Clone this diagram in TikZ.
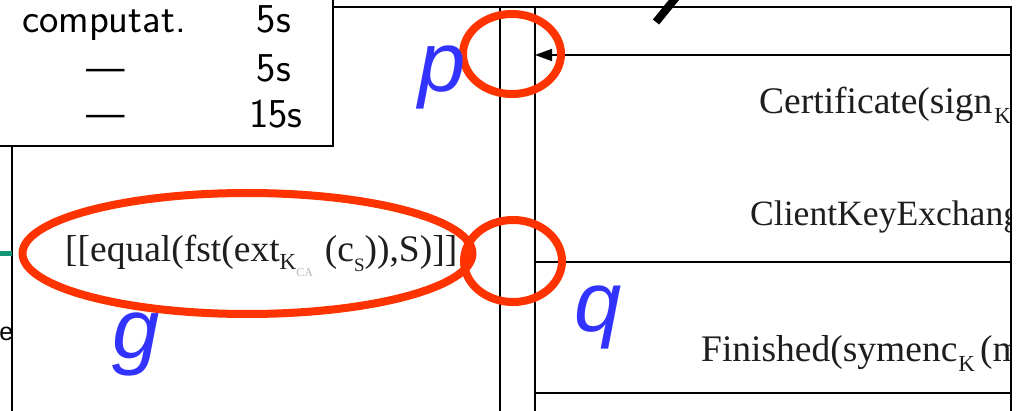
\documentclass[tikz,border=0pt]{standalone}
\usepackage{fontspec}
\usetikzlibrary{arrows.meta}
\newfontfamily\msgfont{Liberation Serif}
\newfontfamily\labfont{Liberation Sans}
\definecolor{ringred}{RGB}{255,51,0}
\definecolor{labblue}{RGB}{51,51,255}
\definecolor{tealbar}{RGB}{20,150,120}
\definecolor{txtgray}{RGB}{30,30,30}
\definecolor{palegray}{RGB}{185,185,185}
\begin{document}
\begin{tikzpicture}[x=1pt,y=-1pt,
  frame/.style={line width=1.8pt,black},
  msg/.style={font=\msgfont\fontsize{37.5}{40}\selectfont,text=txtgray,anchor=base west,inner sep=0},
  tabtxt/.style={font=\sffamily\fontsize{41}{44}\selectfont,anchor=base,inner sep=0},
  bluelab/.style={font=\labfont\itshape\fontsize{85}{90}\selectfont,text=labblue,anchor=base,inner sep=0},
  ring/.style={draw=ringred,line width=8pt}]
\useasboundingbox (0,0) rectangle (1018,411);
\clip (0,0) rectangle (1018,411);
\fill[white] (0,0) rectangle (1018,411);
% message texts, cut at the right frame line
\begin{scope}
\clip (535,0) rectangle (1011,411);
\node[msg] (cert) at (759,114) {Certificate(sign\hspace{2pt}\raisebox{-10pt}{\fontsize{23}{23}\selectfont K}};
\node[msg,font=\msgfont\fontsize{35.6}{40}\selectfont] (cke) at (750,226) {ClientKeyExchang};
\node[msg] (fin) at (701,362) {Finished(symenc\hspace{1pt}\raisebox{-10pt}{\fontsize{23}{23}\selectfont K}\hspace{5pt}(m};
\end{scope}
\node[msg] (eq) at (65,262) {[[equal(fst(ext\raisebox{-8pt}{\fontsize{23}{23}\selectfont K\raisebox{-7pt}{\fontsize{12}{12}\selectfont\color{palegray}CA}}\hspace{12pt}(c\raisebox{-10pt}{\fontsize{19}{19}\selectfont S})),S)]]};
% frame lines
\coordinate (tl) at (333,7);
\coordinate (tr) at (1011,7);
\coordinate (br) at (1011,411);
\draw[frame] (tl) -- (tr) -- (br);
\coordinate (l1t) at (500,7); \coordinate (l1b) at (500,411);
\coordinate (l2t) at (535,7); \coordinate (l2b) at (535,411);
\draw[frame] (l1t) -- (l1b);
\draw[frame] (l2t) -- (l2b);
% message lines
\coordinate (m1r) at (1011,55); \coordinate (m1l) at (535,55);
\coordinate (m2r) at (1011,262); \coordinate (m2l) at (535,262);
\coordinate (m3r) at (1011,393); \coordinate (m3l) at (535,393);
\draw[frame,-{Triangle[length=17pt,width=12pt]}] (m1r) -- (m1l);
\draw[frame] (m2r) -- (m2l);
\draw[frame] (m3r) -- (m3l);
% left frame
\coordinate (lft) at (12,146); \coordinate (lfb) at (12,411);
\draw[frame] (lft) -- (lfb);
\coordinate (tb1) at (0,254); \coordinate (tb2) at (12,254);
\draw[tealbar,line width=5pt] (tb1) -- (tb2);
\node[font=\labfont\fontsize{25}{28}\selectfont,anchor=base west,inner sep=0] (e) at (-0.8,341) {e};
% table box
\draw[line width=2.5pt,fill=white] (-10,-10) rectangle (333,146);
\node[tabtxt] (c1) at (104,33) {computat.};
\node[tabtxt] (c2) at (274,33) {5s};
\node[tabtxt] (d1) at (106,82) {---};
\node[tabtxt] (c3) at (274,82) {5s};
\node[tabtxt] (d2) at (106,128) {---};
\node[tabtxt] (c4) at (276,128) {15s};
% rings
\draw[ring] (512,54) ellipse [x radius=49pt, y radius=40pt];
\draw[ring] (513,261) ellipse [x radius=49pt, y radius=41pt];
\draw[ring] (247.5,253.5) ellipse [x radius=225pt, y radius=60.5pt];
% blue labels
\node[bluelab] (p) at (442,92) {p};
\node[bluelab] (q) at (598,332) {q};
\node[bluelab] (g) at (136,359) {g};
% diagonal stroke
\coordinate (s1) at (656,22); \coordinate (s2) at (682,-10);
\draw[line width=8pt] (s1) -- (s2);
\end{tikzpicture}
\end{document}
